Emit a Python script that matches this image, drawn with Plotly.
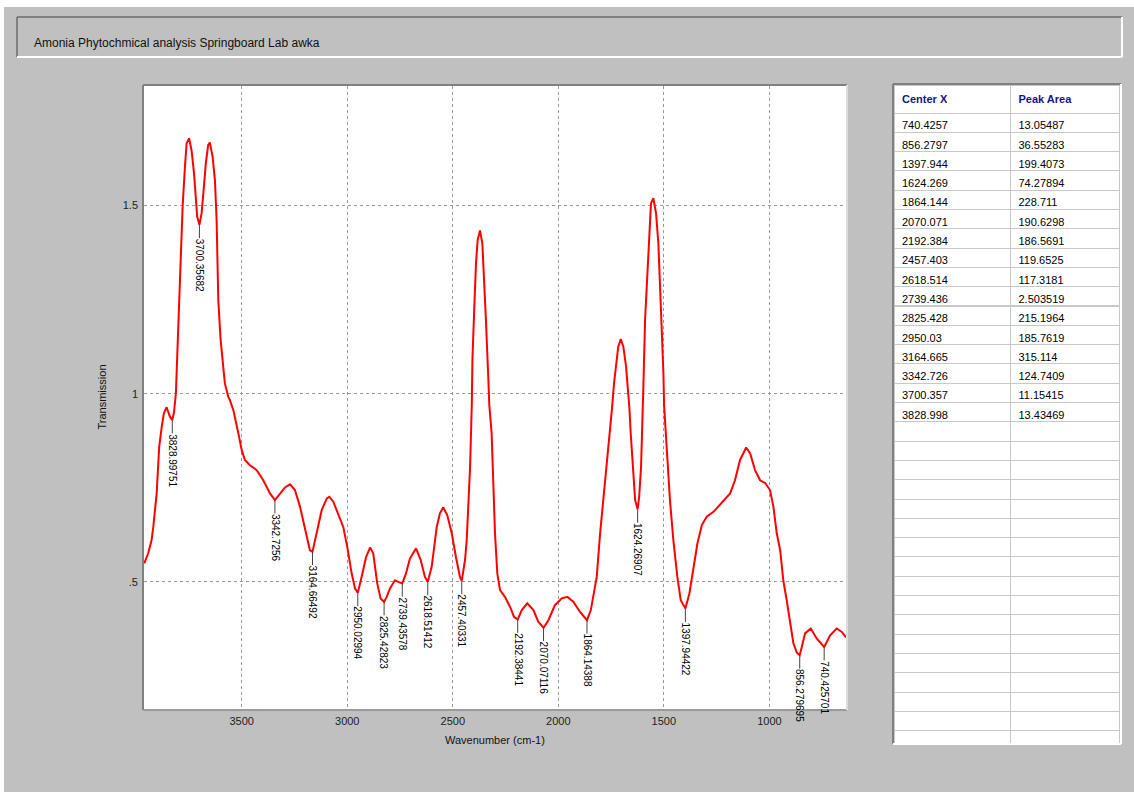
import numpy as np
import plotly.graph_objects as go

# ---------------- data ----------------
wavenumber = [3962, 3943, 3927, 3919, 3903, 3891, 3879, 3869, 3856, 3840, 3829, 3821, 3812,
              3804, 3796, 3788, 3780, 3769, 3761, 3749, 3737, 3726, 3717, 3711, 3700.4, 3690,
              3679, 3670, 3659, 3651, 3638, 3627, 3619, 3611, 3600, 3590, 3580, 3564, 3556,
              3540, 3532, 3516, 3500, 3485, 3461, 3429, 3398, 3366, 3342.7, 3319, 3295, 3271,
              3248, 3224, 3200, 3177, 3164.7, 3145, 3121, 3097, 3085, 3066, 3043, 3019, 3000,
              2979, 2963, 2950, 2932, 2911, 2892, 2877, 2858, 2842, 2825.4, 2813, 2798, 2774,
              2758, 2739.4, 2722, 2703, 2674, 2652, 2632, 2618.5, 2600, 2576, 2561, 2545, 2526,
              2505, 2485, 2466, 2457.4, 2442, 2434, 2426, 2418, 2410, 2407, 2398, 2390, 2382,
              2371, 2360, 2352, 2343, 2332, 2327, 2316, 2308, 2300, 2289, 2276, 2253, 2229,
              2210, 2192.4, 2173, 2147, 2118, 2095, 2070.1, 2047, 2016, 1984, 1957, 1929, 1897,
              1864.1, 1846, 1831, 1818, 1802, 1787, 1771, 1755, 1745, 1736, 1726, 1716, 1704,
              1692, 1679, 1668, 1663, 1657, 1647, 1636, 1624.3, 1617, 1608, 1602, 1597, 1589,
              1578, 1569, 1561, 1550, 1537, 1526, 1518, 1510, 1502, 1499, 1486, 1471, 1455,
              1436, 1420, 1397.9, 1379, 1360, 1341, 1320, 1297, 1265, 1226, 1186, 1163, 1139,
              1110, 1091, 1068, 1044, 1020, 997, 981, 965, 949, 934, 918, 902, 886, 870, 856.3,
              845, 831, 804, 775, 740.4, 712, 681, 657, 641, 637]
transmission = [0.549, 0.576, 0.611, 0.646, 0.735, 0.859, 0.912, 0.948, 0.964, 0.939, 0.930, 0.950, 1.000,
                1.125, 1.231, 1.373, 1.497, 1.604, 1.666, 1.679, 1.644, 1.586, 1.524, 1.471, 1.449, 1.480,
                1.551, 1.613, 1.661, 1.668, 1.630, 1.568, 1.462, 1.249, 1.143, 1.081, 1.028, 0.992, 0.983,
                0.957, 0.939, 0.895, 0.850, 0.824, 0.810, 0.797, 0.770, 0.735, 0.717, 0.735, 0.751, 0.759,
                0.744, 0.700, 0.637, 0.584, 0.580, 0.629, 0.691, 0.722, 0.726, 0.713, 0.682, 0.646, 0.593,
                0.522, 0.482, 0.471, 0.513, 0.566, 0.591, 0.576, 0.496, 0.456, 0.447, 0.460, 0.482, 0.504,
                0.500, 0.496, 0.522, 0.562, 0.589, 0.558, 0.513, 0.500, 0.540, 0.646, 0.682, 0.698, 0.677,
                0.629, 0.566, 0.513, 0.503, 0.558, 0.611, 0.717, 0.806, 0.970, 1.090, 1.231, 1.347, 1.409,
                1.434, 1.400, 1.311, 1.196, 1.045, 0.970, 0.895, 0.762, 0.629, 0.522, 0.478, 0.460, 0.434,
                0.407, 0.400, 0.425, 0.443, 0.425, 0.394, 0.378, 0.398, 0.438, 0.456, 0.460, 0.447, 0.420,
                0.398, 0.425, 0.469, 0.513, 0.629, 0.717, 0.806, 0.895, 0.965, 1.028, 1.081, 1.125, 1.145,
                1.125, 1.072, 1.001, 0.960, 0.895, 0.806, 0.717, 0.693, 0.726, 0.806, 0.895, 1.020, 1.196,
                1.329, 1.444, 1.506, 1.520, 1.480, 1.400, 1.294, 1.178, 1.054, 0.970, 0.850, 0.717, 0.611,
                0.513, 0.451, 0.429, 0.469, 0.540, 0.602, 0.651, 0.673, 0.686, 0.709, 0.735, 0.770, 0.824,
                0.857, 0.841, 0.797, 0.770, 0.763, 0.744, 0.700, 0.629, 0.584, 0.504, 0.451, 0.389, 0.336,
                0.312, 0.305, 0.330, 0.363, 0.376, 0.349, 0.327, 0.358, 0.376, 0.367, 0.356, 0.352]

peak_labels = ["3828.99751", "3700.35682", "3342.7256", "3164.66492", "2950.02994", "2825.42823",
               "2739.43578", "2618.51412", "2457.40331", "2192.38441", "2070.07116", "1864.14388",
               "1624.26907", "1397.94422", "856.279695", "740.425701"]

center_x = ["740.4257", "856.2797", "1397.944", "1624.269", "1864.144", "2070.071", "2192.384",
            "2457.403", "2618.514", "2739.436", "2825.428", "2950.03", "3164.665", "3342.726",
            "3700.357", "3828.998"]
peak_area = ["13.05487", "36.55283", "199.4073", "74.27894", "228.711", "190.6298", "186.5691",
             "119.6525", "117.3181", "2.503519", "215.1964", "185.7619", "315.114", "124.7409",
             "11.15415", "13.43469"]
table_headers = ["Center X", "Peak Area"]

x_ticks = [3500, 3000, 2500, 2000, 1500, 1000]
y_ticks = [0.5, 1.0, 1.5]
y_tick_text = [".5", "1", "1.5"]

title_text = "Amonia Phytochmical analysis Springboard Lab awka"
x_title = "Wavenumber (cm-1)"
y_title = "Transmission"

# ---------------- layout helpers ----------------
W, H = 1134, 792
FONT = "Liberation Sans, Arial, sans-serif"


def px(x):
    return x / W


def py(y):
    return 1 - y / H


PLOT_L, PLOT_R, PLOT_T, PLOT_B = 144, 846, 86, 709
TAB_L, TAB_R, TAB_T, TAB_B = 894, 1120, 85, 743

fig = go.Figure()

fig.add_trace(go.Scatter(
    x=wavenumber, y=transmission, mode="lines",
    line=dict(color="#ff0000", width=2), hoverinfo="x+y", showlegend=False,
))

# peak labels
wn_inc = np.array(wavenumber[::-1], dtype=float)
tr_inc = np.array(transmission[::-1], dtype=float)
annotations = []
for lbl in peak_labels:
    wn = float(lbl)
    val = float(np.interp(wn, wn_inc, tr_inc))
    ndig = sum(c.isdigit() for c in lbl)
    tlen = ndig * 5.56 + 2.78
    annotations.append(dict(
        x=wn, y=val, xref="x", yref="y", text=lbl, textangle=90,
        showarrow=True, arrowhead=0, arrowwidth=1, arrowcolor="#444444",
        ax=0, ay=13 + tlen / 2 + 1, borderpad=0,
        font=dict(family=FONT, size=10, color="#000000"),
    ))

# title and axis titles
annotations.append(dict(x=px(32), y=py(43), xref="paper", yref="paper", text=title_text,
                        showarrow=False, xanchor="left", yanchor="middle",
                        font=dict(family=FONT, size=12, color="#111111")))
annotations.append(dict(x=px((PLOT_L + PLOT_R) / 2), y=py(740), xref="paper", yref="paper",
                        text=x_title, showarrow=False, xanchor="center", yanchor="middle",
                        font=dict(family=FONT, size=11, color="#111111")))
annotations.append(dict(x=px(101), y=py((PLOT_T + PLOT_B) / 2), xref="paper", yref="paper",
                        text=y_title, showarrow=False, textangle=-90, xanchor="center",
                        yanchor="middle", font=dict(family=FONT, size=11, color="#111111")))

# table
n_empty = 17
fig.add_trace(go.Table(
    domain=dict(x=[px(TAB_L), px(TAB_R)], y=[py(TAB_B), py(TAB_T)]),
    columnwidth=[117, 109],
    header=dict(values=["<b>%s</b>" % h for h in table_headers],
                fill_color="white", line_color="#c8c8c8", align="left", height=19,
                font=dict(family=FONT, size=11, color="#14148c")),
    cells=dict(values=[center_x + [""] * n_empty, peak_area + [""] * n_empty],
               fill_color="white", line_color="#c8c8c8", align="left", height=19.3,
               font=dict(family=FONT, size=11, color="#000000")),
))


def seg(x0, y0, x1, y1, color, width=2):
    return dict(type="line", xref="paper", yref="paper", x0=px(x0), y0=py(y0), x1=px(x1),
                y1=py(y1), line=dict(color=color, width=width))


DARK = "#808080"
LIGHT = "#ffffff"
shapes = [
    dict(type="rect", xref="paper", yref="paper", x0=0, x1=1, y0=py(7), y1=1,
         fillcolor="white", line=dict(width=0)),
    dict(type="rect", xref="paper", yref="paper", x0=0, x1=px(4), y0=0, y1=1,
         fillcolor="white", line=dict(width=0)),
    # title box
    seg(17, 17, 1122, 17, DARK), seg(17, 17, 17, 57, DARK),
    seg(17, 57, 1122, 57, LIGHT), seg(1122, 17, 1122, 57, LIGHT),
    # table frame
    seg(893, 84, 1121, 84, DARK), seg(893, 84, 893, 744, DARK),
    seg(893, 744, 1121, 744, LIGHT), seg(1121, 84, 1121, 744, LIGHT),
    # plot frame
    seg(143, 85, 847, 85, DARK), seg(143, 85, 143, 710, DARK),
    seg(143, 710, 847, 710, "#9a9a9a"), seg(847, 85, 847, 710, "#dcdcdc"),
]

fig.update_layout(
    width=W, height=H,
    margin=dict(l=0, r=0, t=0, b=0),
    paper_bgcolor="#c0c0c0", plot_bgcolor="white",
    font=dict(family=FONT, size=11, color="#222222"),
    showlegend=False,
    annotations=annotations,
    shapes=shapes,
    xaxis=dict(domain=[px(PLOT_L), px(PLOT_R)], range=[3963, 637],
               tickmode="array", tickvals=x_ticks, ticktext=[str(t) for t in x_ticks],
               showgrid=True, gridcolor="#999999", griddash="dot", gridwidth=1,
               zeroline=False, showline=False, ticks="", ticklabelstandoff=4,
               tickfont=dict(family=FONT, size=11, color="#222222")),
    yaxis=dict(domain=[py(PLOT_B), py(PLOT_T)], range=[0.162, 1.818],
               tickmode="array", tickvals=y_ticks, ticktext=y_tick_text,
               showgrid=True, gridcolor="#999999", griddash="dot", gridwidth=1,
               zeroline=False, showline=False, ticks="", ticklabelstandoff=5,
               tickfont=dict(family=FONT, size=11, color="#222222")),
)

fig.write_html(
    "out.html",
    config={"displayModeBar": False},
    post_script="document.body.style.margin='0';document.body.style.padding='0';"
                "document.body.style.overflow='hidden';",
)
